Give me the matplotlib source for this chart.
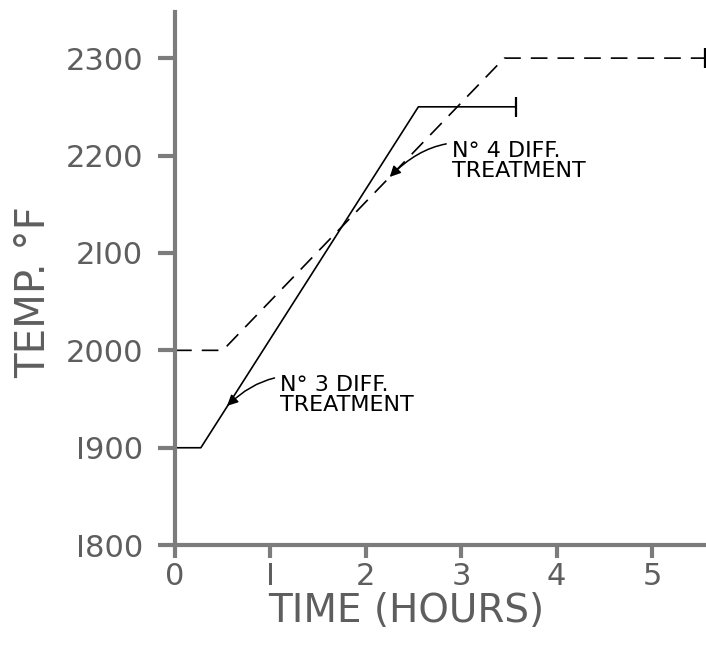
import matplotlib
matplotlib.use("Agg")
import matplotlib.pyplot as plt

# No 3 diffusion treatment (solid)
t3_hours = [0.0, 0.27, 2.55, 3.57]
t3_temp = [1900, 1900, 2250, 2250]

# No 4 diffusion treatment (dashed)
t4_hours = [0.0, 0.5, 3.45, 5.55]
t4_temp = [2000, 2000, 2300, 2300]

x_ticks = [0, 1, 2, 3, 4, 5]
x_labels = ["0", "I", "2", "3", "4", "5"]
y_ticks = [1800, 1900, 2000, 2100, 2200, 2300]
y_labels = ["I800", "I900", "2000", "2I00", "2200", "2300"]

axis_grey = "#7c7c7c"
text_grey = "#5e5e5e"

fig = plt.figure(figsize=(7.06, 6.49), dpi=100)
ax = fig.add_axes([0.248, 0.160, 0.75, 0.821])

ax.plot(t3_hours, t3_temp, color="black", lw=1.2)
ax.plot(t3_hours[-1], t3_temp[-1], marker="|", ms=14, mew=1.6, color="black")

ax.plot(t4_hours, t4_temp, color="black", lw=1.2, dashes=(10, 6))
ax.plot(t4_hours[-1], t4_temp[-1], marker="|", ms=14, mew=1.6, color="black")

ax.set_xlim(0, 5.55)
ax.set_ylim(1800, 2347)

ax.spines["top"].set_visible(False)
ax.spines["right"].set_visible(False)
for s in ["left", "bottom"]:
    ax.spines[s].set_color(axis_grey)
    ax.spines[s].set_linewidth(3)

ax.set_xticks(x_ticks)
ax.set_xticklabels(x_labels)
ax.set_yticks(y_ticks)
ax.set_yticklabels(y_labels)
ax.tick_params(axis="both", direction="out", width=3, color=axis_grey,
               labelcolor=text_grey, labelsize=22)
ax.tick_params(axis="y", length=12, pad=11)
ax.tick_params(axis="x", length=9, pad=3)

ax.set_xlabel("TIME (HOURS)", fontsize=28, color=text_grey)
ax.set_ylabel("TEMP. °F", fontsize=29, color=text_grey)
ax.xaxis.set_label_coords(0.436, -0.088)
ax.yaxis.set_label_coords(-0.229, 0.475)

ax.annotate("N° 3 DIFF.\nTREATMENT", xy=(0.545, 1943), xytext=(1.10, 1975),
            fontsize=16, color="black", va="top", ha="left", linespacing=1.0,
            arrowprops=dict(arrowstyle="-|>", color="black", lw=1.1,
                            shrinkA=2, shrinkB=0,
                            connectionstyle="arc3,rad=0.4"))
ax.annotate("N° 4 DIFF.\nTREATMENT", xy=(2.25, 2178), xytext=(2.90, 2215),
            fontsize=16, color="black", va="top", ha="left", linespacing=1.0,
            arrowprops=dict(arrowstyle="-|>", color="black", lw=1.1,
                            shrinkA=2, shrinkB=0,
                            connectionstyle="arc3,rad=0.4"))

fig.savefig("out.png", dpi=100)
